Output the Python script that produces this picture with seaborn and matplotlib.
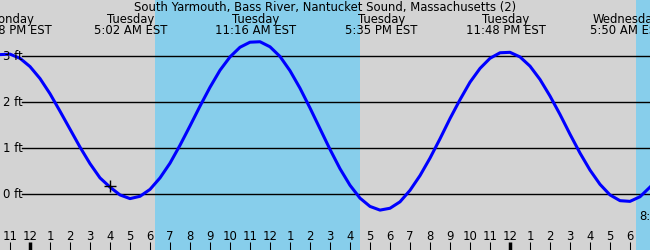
import matplotlib
matplotlib.use("Agg")
import matplotlib.pyplot as plt
import matplotlib.transforms as mtransforms
import seaborn as sns
import pandas as pd

# ---- data -------------------------------------------------------------
# hours since Tuesday 00:00 EST
hours = [-1.5, -1.0, -0.5, 0.0, 0.5, 1.0, 1.5, 2.0, 2.5, 3.0, 3.5, 4.0, 4.5,
         5.0, 5.5, 6.0, 6.5, 7.0, 7.5, 8.0, 8.5, 9.0, 9.5, 10.0, 10.5, 11.0,
         11.5, 12.0, 12.5, 13.0, 13.5, 14.0, 14.5, 15.0, 15.5, 16.0, 16.5,
         17.0, 17.5, 18.0, 18.5, 19.0, 19.5, 20.0, 20.5, 21.0, 21.5, 22.0,
         22.5, 23.0, 23.5, 24.0, 24.5, 25.0, 25.5, 26.0, 26.5, 27.0, 27.5,
         28.0, 28.5, 29.0, 29.5, 30.0, 30.5, 31.0]
tide_ft = [3.03, 3.04, 2.95, 2.77, 2.51, 2.18, 1.80, 1.41, 1.02, 0.66, 0.35,
           0.15, -0.02, -0.10, -0.05, 0.10, 0.35, 0.67, 1.06, 1.48, 1.91,
           2.32, 2.69, 2.98, 3.19, 3.30, 3.31, 3.20, 2.99, 2.68, 2.30, 1.87,
           1.42, 0.97, 0.55, 0.19, -0.09, -0.27, -0.35, -0.31, -0.17, 0.08,
           0.40, 0.78, 1.20, 1.64, 2.05, 2.43, 2.73, 2.95, 3.07, 3.08, 2.98,
           2.78, 2.49, 2.13, 1.73, 1.30, 0.89, 0.52, 0.21, -0.02, -0.145,
           -0.16, -0.06, 0.15]

now_hour = [4.0]
now_ft = [0.18]

day_start = [6.25, 30.3]
day_end = [16.5, 40.0]

event_hours = [-0.9, 5.03, 11.27, 17.58, 23.8, 29.83]
event_days = ["Monday", "Tuesday", "Tuesday", "Tuesday", "Tuesday", "Wednesday"]
event_times = ["10:58 PM EST", "5:02 AM EST", "11:16 AM EST", "5:35 PM EST",
               "11:48 PM EST", "5:50 AM EST"]

tick_hours = list(range(-1, 31))
tick_labels = ["11", "12", "1", "2", "3", "4", "5", "6", "7", "8", "9", "10",
               "11", "12", "1", "2", "3", "4", "5", "6", "7", "8", "9", "10",
               "11", "12", "1", "2", "3", "4", "5", "6"]
midnight_hours = [0, 24]

level_ft = [0, 1, 2, 3]
level_labels = ["0 ft", "1 ft", "2 ft", "3 ft"]

title = "South Yarmouth, Bass River, Nantucket Sound, Massachusetts (2)"

# ---- figure -----------------------------------------------------------
W, H = 650, 250
FS = 8.4
fig = plt.figure(figsize=(W / 100, H / 100), dpi=100)
ax = fig.add_axes([0, 0, 1, 1])
ax.set_facecolor("#d3d3d3")
ax.set_xlim(-1.5, 31.0)
ax.set_ylim(-56 / 46, 194 / 46)

for s, e in zip(day_start, day_end):
    ax.axvspan(s, e, color="#87ceeb", lw=0, zorder=0)

for lv in level_ft:
    ax.axhline(lv, xmin=22 / W, xmax=1, color="black", lw=1.0, zorder=1)

df = pd.DataFrame({"hour": hours, "ft": tide_ft})
sns.lineplot(data=df, x="hour", y="ft", ax=ax, color="#0000ff", lw=2.2,
             zorder=3)
sns.scatterplot(x=now_hour, y=now_ft, ax=ax, marker="+", s=80,
                color="black", linewidth=1.0, zorder=4)

# level labels
ytrans = mtransforms.blended_transform_factory(ax.transAxes, ax.transData)
for lv, lab in zip(level_ft, level_labels):
    ax.text(3 / W, lv, lab, transform=ytrans, ha="left", va="center",
            fontsize=FS, color="black")

# top labels
xtrans = mtransforms.blended_transform_factory(ax.transData, ax.transAxes)
ax.text(0.5, 1 - 7 / H, title, transform=ax.transAxes, ha="center",
        va="center", fontsize=FS, color="black")
for h, d, t in zip(event_hours, event_days, event_times):
    ax.text(h, 1 - 19 / H, d, transform=xtrans, ha="center", va="center",
            fontsize=FS, color="black", clip_on=False)
    ax.text(h, 1 - 31 / H, t, transform=xtrans, ha="center", va="center",
            fontsize=FS, color="black", clip_on=False)

ax.text(639 / W, 1 - 217 / H, "8:1", transform=ax.transAxes, ha="left",
        va="center", fontsize=FS, color="black")

# hour ticks inside bottom
ax.set_xticks(tick_hours)
ax.set_xticklabels(tick_labels)
ax.set_yticks([])
ax.tick_params(axis="x", direction="in", length=6, width=0.75,
               pad=-14.5, labelsize=FS, colors="black")
for tk, h in zip(ax.xaxis.get_major_ticks(), tick_hours):
    if h in midnight_hours:
        tk.tick1line.set_markeredgewidth(2.5)
for sp in ax.spines.values():
    sp.set_visible(False)
ax.set_xlabel("")
ax.set_ylabel("")

fig.savefig("out.png", dpi=100)
